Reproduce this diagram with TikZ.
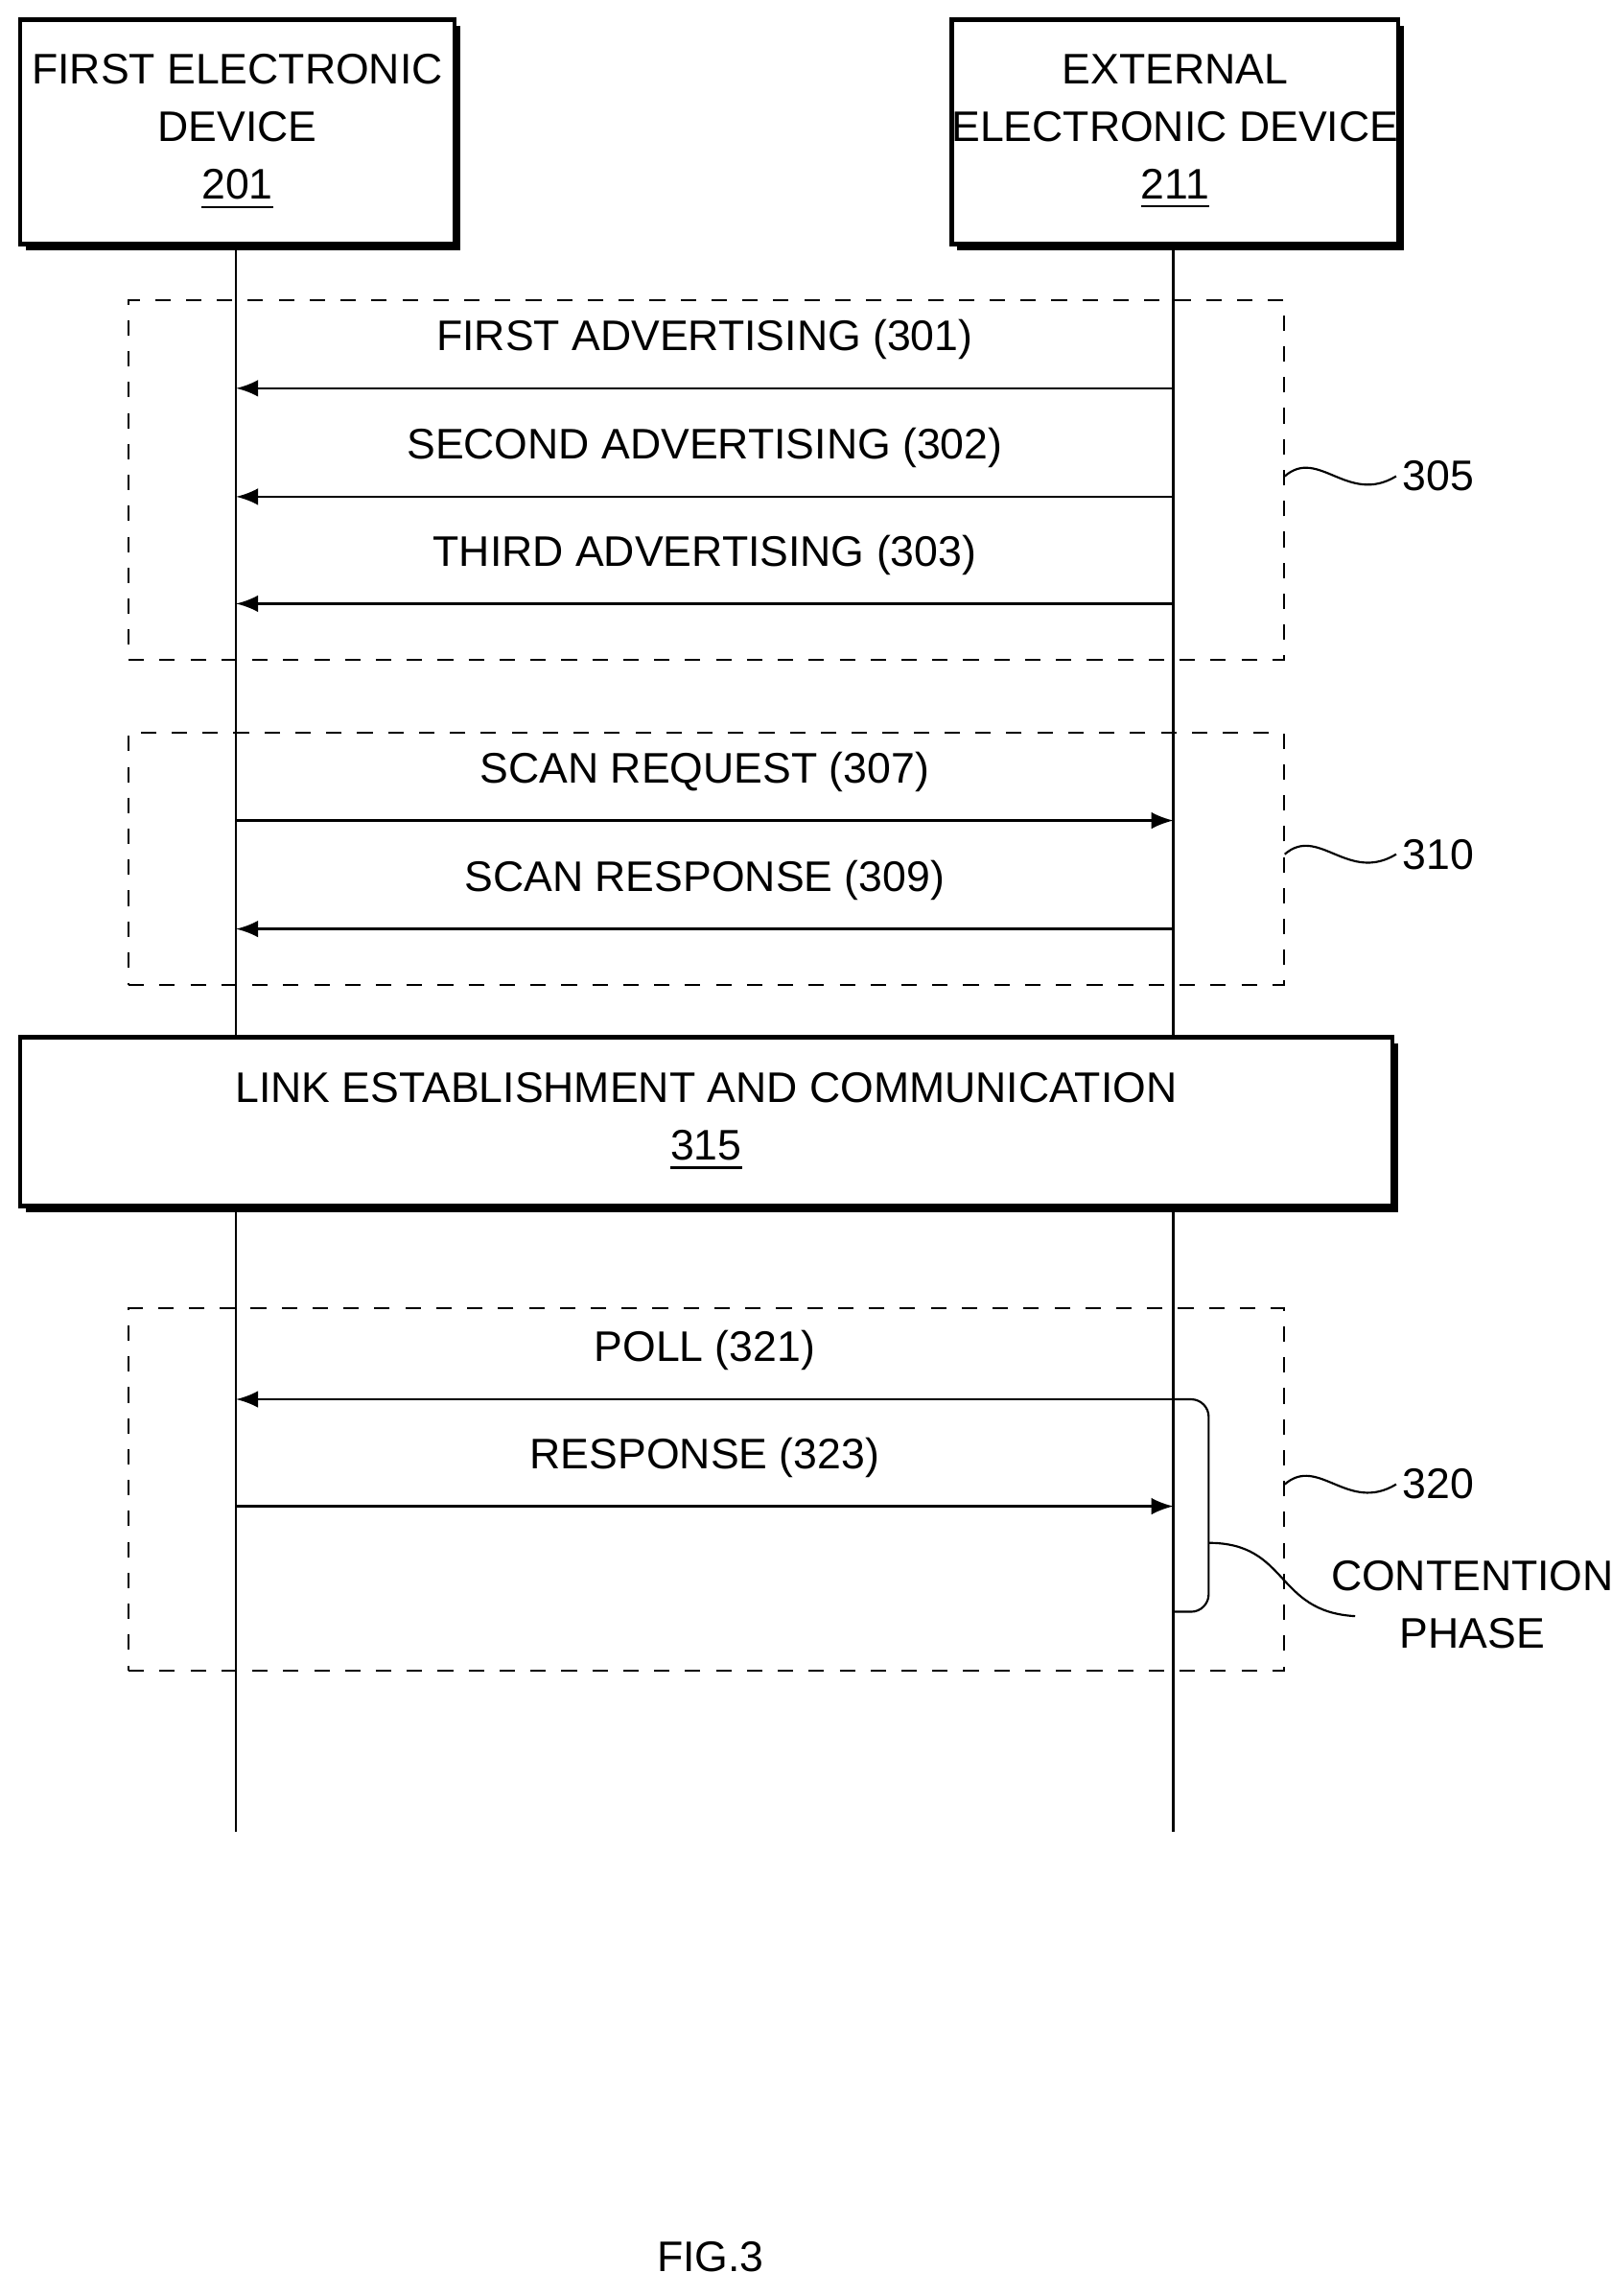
\documentclass[tikz,border=0pt]{standalone}
\usepackage{fontspec}
\setmainfont{Liberation Sans}
\usetikzlibrary{positioning,shadows}
\begin{document}
\begin{tikzpicture}[x=0.01cm,y=-0.01cm,font=\fontsize{8.3}{11.2}\selectfont]
        \tikzset{
            device/.style={draw, line width=0.8pt, fill=white, align=center, inner sep=0pt,
                drop shadow={opacity=1, fill=black, shadow xshift=0.04cm, shadow yshift=-0.04cm}},
            phase/.style={draw, dashed, line width=0.4pt},
            msg/.style={-latex, line width=0.5pt},
            ref/.style={line width=0.4pt},
        }
        \useasboundingbox (0,0) rectangle (1100,1567);

        % devices
        \node[device, minimum width=2.96cm, minimum height=1.53cm] (first) at (162,90)
            {FIRST ELECTRONIC\\DEVICE\\\underline{201}};
        \node[device, minimum width=2.96cm, minimum height=1.53cm] (external) at (802,90)
            {EXTERNAL\\ELECTRONIC DEVICE\\\underline{211}};

        % lifelines
        \coordinate (firstend) at (161,1250);
        \coordinate (externalend) at (801,1250);
        \draw[line width=0.5pt] (161,167) -- (firstend);
        \draw[line width=0.5pt] (801,167) -- (externalend);

        % phases
        \node[phase, minimum width=7.88cm, minimum height=2.45cm] (adv) at (482,327.5) {};
        \node[phase, minimum width=7.88cm, minimum height=1.72cm] (scan) at (482,586) {};
        \node[phase, minimum width=7.88cm, minimum height=2.47cm] (conn) at (482,1016.5) {};

        % link box
        \node[device, minimum width=9.36cm, minimum height=1.15cm] (link) at (482,765.5)
            {LINK ESTABLISHMENT AND COMMUNICATION\\\underline{315}};

        % messages
        \coordinate (r301) at (801,265); \coordinate (l301) at (161,265);
        \coordinate (r302) at (801,339); \coordinate (l302) at (161,339);
        \coordinate (r303) at (801,412); \coordinate (l303) at (161,412);
        \coordinate (r307) at (801,560); \coordinate (l307) at (161,560);
        \coordinate (r309) at (801,634); \coordinate (l309) at (161,634);
        \coordinate (r321) at (801,955); \coordinate (l321) at (161,955);
        \coordinate (r323) at (801,1028); \coordinate (l323) at (161,1028);

        \draw[msg] (r301) -- (l301) node[midway, above=2pt] {FIRST ADVERTISING (301)};
        \draw[msg] (r302) -- (l302) node[midway, above=2pt] {SECOND ADVERTISING (302)};
        \draw[msg] (r303) -- (l303) node[midway, above=2pt] {THIRD ADVERTISING (303)};
        \draw[msg] (l307) -- (r307) node[midway, above=2pt] {SCAN REQUEST (307)};
        \draw[msg] (r309) -- (l309) node[midway, above=2pt] {SCAN RESPONSE (309)};
        \draw[msg] (r321) -- (l321) node[midway, above=2pt] {POLL (321)};
        \draw[msg] (l323) -- (r323) node[midway, above=2pt] {RESPONSE (323)};

        % reference labels
        \node[anchor=west, inner sep=1pt] (n305) at (953,325) {305};
        \node[anchor=west, inner sep=1pt] (n310) at (953,583) {310};
        \node[anchor=west, inner sep=1pt] (n320) at (953,1013) {320};
        \draw[ref] (adv.east |- n305) .. controls (900,305) and (920,345) .. (n305.west);
        \draw[ref] (scan.east |- n310) .. controls (900,563) and (920,603) .. (n310.west);
        \draw[ref] (conn.east |- n320) .. controls (900,993) and (920,1033) .. (n320.west);

        % contention phase
        \node[align=center] (contention) at (1005,1095) {CONTENTION\\PHASE};
        \coordinate (bracetop) at (825,955);
        \coordinate (bracebot) at (825,1100);
        \draw[ref, rounded corners=0.12cm] (r321) -- (bracetop) -- (bracebot) -- (801,1100);
        \coordinate (bracemid) at (825,1053);
        \draw[ref] (bracemid) .. controls (880,1053) and (870,1100) .. (925,1103);

        \node (fig) at (485,1540) {FIG.3};
\end{tikzpicture}
\end{document}
